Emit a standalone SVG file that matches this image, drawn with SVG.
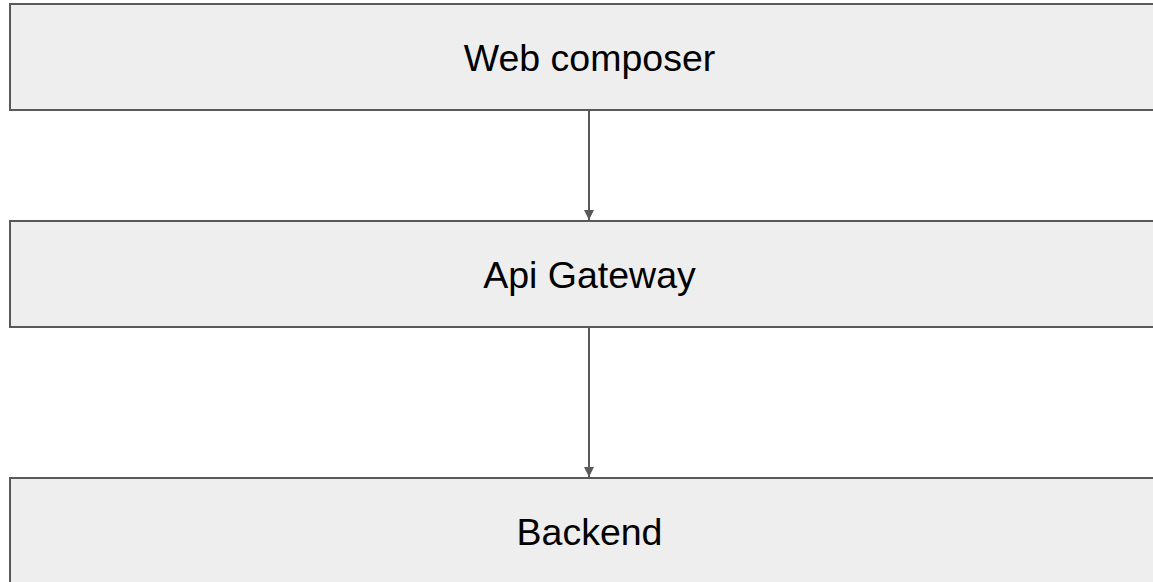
<svg xmlns="http://www.w3.org/2000/svg" width="1153" height="582" viewBox="0 0 1153 582">
<style>
.box{fill:#eeeeee;stroke:#595959;stroke-width:2}
.lbl{font-family:"Liberation Sans",Arial,sans-serif;font-size:37.5px;fill:#000;text-anchor:middle}
.edge{stroke:#595959;stroke-width:2;fill:none;marker-end:url(#ah)}
</style>
<defs>
<marker id="ah" viewBox="0 0 10 10" refX="10" refY="5" markerWidth="5" markerHeight="5" orient="auto" markerUnits="strokeWidth">
<path d="M0,0 L10,5 L0,10 z" fill="#595959"/>
</marker>
</defs>
<rect width="1153" height="582" fill="#ffffff"/>
<g id="connectors">
<line class="edge" x1="589" y1="111" x2="589" y2="220"/>
<line class="edge" x1="589" y1="328" x2="589" y2="477"/>
</g>
<g id="web-composer">
<rect class="box" x="10" y="4" width="1160" height="106"/>
<text class="lbl" x="589.5" y="71">Web composer</text>
</g>
<g id="api-gateway">
<rect class="box" x="10" y="221" width="1160" height="106"/>
<text class="lbl" x="589.5" y="288">Api Gateway</text>
</g>
<g id="backend">
<rect class="box" x="10" y="478" width="1160" height="120"/>
<text class="lbl" x="589.5" y="545">Backend</text>
</g>
</svg>
